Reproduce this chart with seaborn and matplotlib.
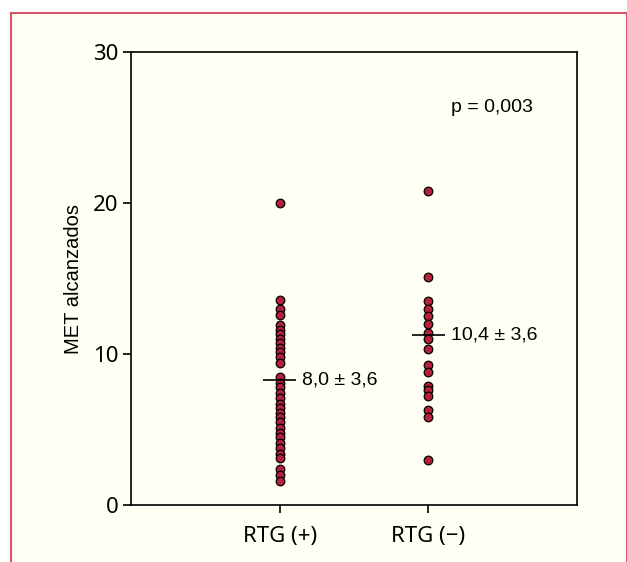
import pandas as pd
import numpy as np
import matplotlib.pyplot as plt
import seaborn as sns
from matplotlib.patches import Rectangle

# values
groups = ["RTG (+)", "RTG (\u2212)"]
met_pos = [20.0, 13.6, 13.0, 12.6, 11.9, 11.6, 11.3, 11.0, 10.7, 10.4, 10.1,
           9.8, 9.4, 8.5, 8.1, 7.8, 7.4, 7.1, 6.7, 6.4, 6.1, 5.8, 5.5, 5.1,
           4.8, 4.5, 4.1, 3.8, 3.4, 3.1, 2.4, 2.0, 1.6]
met_neg = [20.8, 15.1, 13.5, 13.0, 12.5, 12.0, 11.4, 11.0, 10.3, 9.3, 8.8,
           7.9, 7.6, 7.2, 6.3, 5.8, 3.0]
center_vals = [8.3, 11.25]
center_labels = ["8,0 \u00b1 3,6", "10,4 \u00b1 3,6"]
y_ticks = [0, 10, 20, 30]
p_text = "p = 0,003"

cream = "#FFFFF3"
frame_red = "#D6566A"
dot_red = "#B5213A"

df = pd.DataFrame({
    "grupo": [groups[0]] * len(met_pos) + [groups[1]] * len(met_neg),
    "met": met_pos + met_neg,
})

sns.set_style("ticks")
plt.rcParams["font.family"] = ["Liberation Sans", "DejaVu Sans"]
plt.rcParams["text.color"] = "black"
plt.rcParams["axes.labelcolor"] = "black"
plt.rcParams["xtick.color"] = "black"
plt.rcParams["ytick.color"] = "black"

W, H = 627, 562
fig = plt.figure(figsize=(W / 100, H / 100), dpi=100, facecolor="white")

# cream panel with red border (bottom edge runs off the image)
fig.patches.append(Rectangle((11 / W, -0.05), 1 - 11.5 / W, 1.05 - 13 / H,
                             transform=fig.transFigure, facecolor=cream,
                             edgecolor=frame_red, linewidth=1.5, zorder=-10))

ax = fig.add_axes([131 / W, 1 - 505 / H, (577 - 131) / W, (505 - 52) / H])
ax.set_facecolor(cream)

sns.stripplot(data=df, x="grupo", y="met", order=groups, jitter=False,
              color=dot_red, edgecolor="black", linewidth=0.9, size=6.2,
              ax=ax, zorder=3)

xs = np.arange(len(groups))
ax.hlines(center_vals, xs - 0.11, xs + 0.11, color="black", linewidth=1.2, zorder=4)
for x, v, lab in zip(xs, center_vals, center_labels):
    ax.text(x + 0.15, v, lab, ha="left", va="center", fontsize=14)

ax.text(1.15, 26.3, p_text, ha="left", va="center", fontsize=14)

ax.set_xlim(-1, 2)
ax.set_ylim(0, 30)
ax.set_yticks(y_ticks)
ax.set_xlabel("")
ax.set_ylabel("MET alcanzados", fontsize=14.5, labelpad=7)

for s in ax.spines.values():
    s.set_visible(True)
    s.set_color("black")
    s.set_linewidth(1.2)

ax.tick_params(axis="both", direction="out", length=6, width=1.2, color="black",
               labelcolor="black")
for lab in ax.get_xticklabels() + ax.get_yticklabels():
    lab.set_family(["Noto Sans Condensed", "Noto Sans", "Liberation Sans", "DejaVu Sans"])
    lab.set_stretch("condensed")
    lab.set_fontsize(16)
ax.tick_params(axis="x", pad=9)
ax.tick_params(axis="y", pad=3)

fig.savefig("out.png", dpi=100)
